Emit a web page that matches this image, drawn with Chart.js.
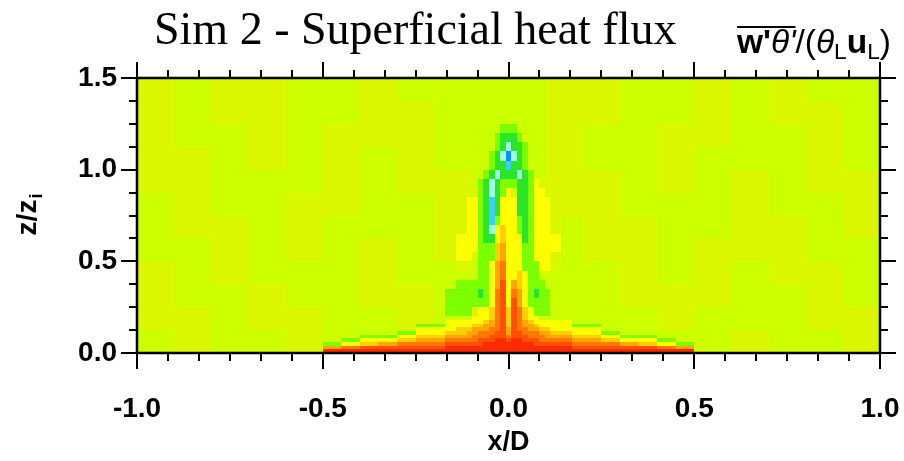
<!DOCTYPE html>
<html><head><meta charset="utf-8">
<script src="https://cdn.jsdelivr.net/npm/chart.js@4.4.1/dist/chart.umd.min.js"></script>
<style>html,body{margin:0;padding:0;background:#fff;overflow:hidden}canvas{display:block}</style>
</head><body>
<canvas id="c" width="904" height="461"></canvas>
<script>
const _ = null;
// axes
const xRange = [-1, 1];
const zRange = [0, 1.5];
const xTickValues = [-1, -0.5, 0, 0.5, 1];
const zTickValues = [0, 0.5, 1, 1.5];
const xMinorPerMajor = 6;
const zMinorPerMajor = 4;
// contour levels (w'theta' in 1e-3 units) and fill colours
const fluxLevels = [-7, -5, -3, -1.5, -0.5, 0.5, 1.5, 3, 5, 7.5, 10.5, 13.5];
const fluxColors = ['#0a8cff','#3ccdff','#9dffe6','#2ae62a','#7cff00','#ccff00','#daf700',
                    '#ffff00','#ffd000','#ffa500','#ff7800','#ff5000','#ff2a00'];

// background field (coarse), rows from top (z=1.5) to bottom
const bgXEdges = [-1,-0.9,-0.8,-0.7,-0.6,-0.5,-0.4,-0.3,-0.2,-0.1,0,0.1,0.2,0.3,0.4,0.5,0.6,0.7,0.8,0.9,1];
const bgZEdges = [1.5,1.375,1.25,1.125,1,0.875,0.75,0.625,0.5,0.375,0.25,0.125,0];
const bgValues = [
 [1,0,1,1,0,0,1,0,0,0,0,1,1,0,0,1,0,1,0,0],
 [1,0,1,1,0,0,1,1,0,0,0,1,1,0,0,1,0,1,1,0],
 [1,0,0,1,0,1,1,1,0,0,0,1,0,0,1,1,0,0,1,0],
 [1,1,0,1,0,1,0,1,0,0,0,1,0,0,1,0,0,0,1,0],
 [1,1,0,0,0,1,0,1,1,0,0,1,1,0,1,0,1,0,1,1],
 [0,1,0,0,1,1,0,0,1,0,0,1,1,0,0,0,1,0,0,1],
 [0,1,1,0,1,0,0,0,1,0,0,0,1,1,0,0,1,1,0,1],
 [0,0,1,0,1,0,1,0,1,0,0,0,1,1,0,1,1,1,0,0],
 [1,0,1,0,0,0,1,0,0,0,0,0,0,1,0,1,0,1,1,0],
 [1,0,0,1,0,0,1,1,0,0,0,0,0,1,1,1,0,0,1,0],
 [1,1,0,1,1,0,0,1,0,0,0,0,0,0,1,0,0,0,1,1],
 [0,1,0,0,1,0,0,0,0,0,0,0,0,0,0,0,1,0,0,1]
];

// surface layer ("skirt"), rows from top (z=0.2) to bottom
const skirtXEdges = [-0.55,-0.5,-0.45,-0.4,-0.35,-0.3,-0.25,-0.2,-0.15,-0.1,-0.05,0,0.05,0.1,0.15,0.2,0.25,0.3,0.35,0.4,0.45,0.5,0.55];
const skirtZEdges = [0.2,0.18,0.16,0.14,0.12,0.1,0.08,0.06,0.04,0.02,0];
const skirtValues = [
 [_,_,_,_,_,_,_, _,_,_,_,_,_,_,_, _,_,_,_,_,_,_],
 [_,_,_,_,_,_,_, _,_,_,_,_,_,_,_, _,_,_,_,_,_,_],
 [_,_,_,_,_,_,-1, _,_,_,_,_,_,_,_, -1,_,_,_,_,_,_],
 [_,_,_,_,_,_,2, _,_,_,_,_,_,_,_, 2,_,_,_,_,_,_],
 [_,_,_,_,_,-1,2, _,_,_,_,_,_,_,_, 2,-1,_,_,_,_,_],
 [_,_,_,-1,-1,2,4, _,_,_,_,_,_,_,_, 4,2,-1,-1,_,_,_],
 [_,_,-1,2,2,4,6, _,_,_,_,_,_,_,_, 6,4,2,2,-1,_,_],
 [_,-1,2,4,6,9,9, _,_,_,_,_,_,_,_, 9,9,6,4,2,-1,_],
 [_,6,9,12,12,12,12, _,_,_,_,_,_,_,_, 12,12,12,12,9,6,_],
 [_,15,15,15,15,15,15, _,_,_,_,_,_,_,_, 15,15,15,15,15,15,_]
];

// central plume (fine), rows from top (z=1.3) to bottom
const plumeXEdges = [-0.2,-0.17,-0.14,-0.1125,-0.0975,-0.0825,-0.0675,-0.0525,-0.0375,-0.0225,-0.0075,
                     0.0075,0.0225,0.0375,0.0525,0.0675,0.0825,0.0975,0.1125,0.14,0.17,0.2];
const plumeZEdges = [1.3,1.25,1.2,1.15,1.1,1.05,1.0,0.95,0.9,0.85,0.8,0.75,0.7,0.65,0.6,0.55,0.5,0.45,
                     0.4,0.35,0.3,0.25,0.2,0.18,0.16,0.14,0.12,0.1,0.08,0.06,0.04,0.02,0];
const plumeValues = [
 [_,_,_,_,_,_,_,_,_,_,_,_,_,_,_,_,_,_,_,_,_],
 [_,_,_,_,_,_,_,_,_,-1,-1,-1,_,_,_,_,_,_,_,_,_],
 [_,_,_,_,_,_,_,_,-1,-2,-2,-2,-1,_,_,_,_,_,_,_,_],
 [_,_,_,_,_,_,_,_,-1,-2,-4,-2,-2,-1,_,_,_,_,_,_,_],
 [_,_,_,_,_,_,_,-1,-2,-4,-8,-4,-2,-1,_,_,_,_,_,_,_],
 [_,_,_,_,_,_,_,-1,-2,-2,-6,-2,-2,-1,_,_,_,_,_,_,_],
 [_,_,_,_,_,_,-1,-2,-4,-2,-2,-2,-4,-2,-1,_,_,_,_,_,_],
 [_,_,_,_,_,-1,-2,-4,-2,-1,-1,-1,-2,-2,-1,2,1,_,_,_,_],
 [_,_,_,1,1,-1,-2,-4,-2,-1,2,0,-2,-2,-1,2,2,1,_,_,_],
 [_,_,_,2,2,-1,-2,-6,-2,2,2,2,-2,-2,-1,2,2,2,1,_,_],
 [_,_,1,2,2,-1,-2,-6,-2,2,2,2,-2,-2,-1,2,2,2,1,_,_],
 [_,_,1,2,2,-1,-2,-6,-1,2,2,2,-1,-2,-1,2,2,2,1,_,_],
 [_,_,1,2,2,-1,-2,-4,2,4,2,2,-1,-2,-1,2,2,2,1,_,_],
 [_,1,2,2,2,-1,-2,-2,2,4,2,2,2,-2,-1,2,2,2,2,_,_],
 [_,1,2,2,2,-1,-1,-1,4,6,2,2,2,-1,-1,2,2,2,2,_,_],
 [_,_,2,2,1,-1,-1,-1,4,6,2,2,2,-1,-1,2,2,2,1,_,_],
 [_,_,1,1,0,-1,-1,2,6,9,2,2,2,-1,-1,-1,2,2,1,_,_],
 [_,_,_,_,0,-1,-1,2,6,9,2,2,4,2,-1,-1,0,_,_,_,_],
 [_,_,-1,-1,-1,-1,-1,2,6,12,2,6,4,2,-1,-1,-1,_,_,_,_],
 [_,-1,-1,-1,-1,-2,-1,2,9,12,2,9,6,2,-1,-2,-1,-1,_,_,_],
 [_,-1,-1,-1,-1,-1,-1,2,9,12,2,12,6,2,-1,-1,-1,-1,_,_,_],
 [_,-1,-1,-1,1,2,2,4,9,12,4,12,9,4,2,-1,-1,-1,_,_,_],
 [_,_,_,1,2,2,2,4,9,12,4,12,9,4,2,2,1,_,_,_,_],
 [_,2,2,2,2,2,4,6,9,12,4,12,9,6,4,2,2,2,2,2,_],
 [-1,2,2,2,4,4,6,6,9,12,4,12,9,6,6,4,2,2,2,2,-1],
 [2,2,4,4,6,6,6,9,9,12,6,12,9,9,6,6,4,4,2,2,2],
 [2,4,4,6,6,9,9,9,12,12,6,12,12,9,9,9,6,6,4,4,2],
 [4,6,6,6,9,9,9,12,12,12,9,12,12,12,9,9,9,6,6,6,4],
 [6,9,9,9,9,12,12,12,15,15,12,15,15,12,12,12,9,9,9,9,6],
 [9,12,12,12,12,12,15,15,15,15,15,15,15,15,15,12,12,12,12,12,9],
 [12,15,15,15,15,15,15,15,15,15,15,15,15,15,15,15,15,15,15,15,12],
 [15,15,15,15,15,15,15,15,15,15,15,15,15,15,15,15,15,15,15,15,15]
];

const titleText = 'Sim 2 - Superficial heat flux';
const xTitle = 'x/D';

function colorFor(v) {
  let i = 0;
  while (i < fluxLevels.length && v >= fluxLevels[i]) i++;
  return fluxColors[i];
}

function drawField(chart, xEdges, zEdges, rows) {
  const {ctx, scales: {x, y}} = chart;
  for (let r = 0; r < rows.length; r++) {
    const y0 = Math.round(y.getPixelForValue(zEdges[r]));
    const y1 = Math.round(y.getPixelForValue(zEdges[r + 1]));
    for (let c = 0; c < rows[r].length; c++) {
      const v = rows[r][c];
      if (v === null) continue;
      const x0 = Math.round(x.getPixelForValue(xEdges[c]));
      const x1 = Math.round(x.getPixelForValue(xEdges[c + 1]));
      ctx.fillStyle = colorFor(v);
      ctx.fillRect(x0, y0, x1 - x0, y1 - y0);
    }
  }
}

const fieldPlugin = {
  id: 'fluxField',
  beforeDatasetsDraw(chart) {
    const {ctx, chartArea: a} = chart;
    ctx.save();
    ctx.beginPath(); ctx.rect(a.left, a.top, a.right - a.left, a.bottom - a.top); ctx.clip();
    drawField(chart, bgXEdges, bgZEdges, bgValues);
    drawField(chart, skirtXEdges, skirtZEdges, skirtValues);
    drawField(chart, plumeXEdges, plumeZEdges, plumeValues);
    ctx.restore();
  }
};

const SANS = '"Liberation Sans", Arial, Helvetica, sans-serif';

const framePlugin = {
  id: 'frameAndLabels',
  afterDraw(chart) {
    const {ctx, chartArea: a, scales: {x, y}} = chart;
    ctx.save();
    ctx.strokeStyle = '#000';
    ctx.lineCap = 'butt';
    const line = (x0, y0, x1, y1) => { ctx.beginPath(); ctx.moveTo(x0, y0); ctx.lineTo(x1, y1); ctx.stroke(); };
    ctx.lineWidth = 2;
    const xStep = (xTickValues[1] - xTickValues[0]) / xMinorPerMajor;
    const nx = Math.round((xRange[1] - xRange[0]) / xStep);
    for (let i = 0; i <= nx; i++) {
      const px = Math.round(x.getPixelForValue(xRange[0] + i * xStep));
      const len = (i % xMinorPerMajor === 0) ? 16 : 8;
      line(px, a.bottom, px, a.bottom + len);
      line(px, a.top, px, a.top - len);
    }
    const zStep = (zTickValues[1] - zTickValues[0]) / zMinorPerMajor;
    const nz = Math.round((zRange[1] - zRange[0]) / zStep);
    for (let i = 0; i <= nz; i++) {
      const py = Math.round(y.getPixelForValue(zRange[0] + i * zStep));
      const len = (i % zMinorPerMajor === 0) ? 16 : 8;
      line(a.left - len, py, a.left, py);
      line(a.right, py, a.right + len, py);
    }
    ctx.lineWidth = 2.5;
    ctx.strokeRect(a.left, a.top, a.right - a.left, a.bottom - a.top);

    // main title
    ctx.fillStyle = '#000';
    ctx.textBaseline = 'alphabetic';
    ctx.textAlign = 'left';
    ctx.font = '46px "Liberation Serif", "DejaVu Serif", serif';
    ctx.fillText(titleText, 154, 44);

    // y axis title z/z_i (rotated)
    ctx.save();
    ctx.translate(27, 215);
    ctx.rotate(-Math.PI / 2);
    ctx.font = 'bold 28px ' + SANS;
    const w1 = ctx.measureText('z/z').width;
    ctx.font = 'bold 18px ' + SANS;
    const w2 = ctx.measureText('i').width;
    const sx = -(w1 + w2) / 2;
    ctx.font = 'bold 28px ' + SANS;
    ctx.fillText('z/z', sx, 9);
    ctx.font = 'bold 18px ' + SANS;
    ctx.fillText('i', sx + w1 + 1, 15);
    ctx.restore();

    // unit label  w'θ'/(θL uL)
    const base = 26;
    const pieces = [
      {t: "w'", f: 'bold ', s: 1, dy: 0, over: true},
      {t: "θ'", f: 'italic ', s: 1, dy: 0, over: true},
      {t: '/(', f: '', s: 1, dy: 0},
      {t: 'θ', f: 'italic ', s: 1, dy: 0},
      {t: 'L', f: '', s: 0.68, dy: 6},
      {t: 'u', f: 'bold ', s: 1, dy: 0},
      {t: 'L', f: '', s: 0.68, dy: 6},
      {t: ')', f: '', s: 1, dy: 0}
    ];
    let total = 0;
    pieces.forEach(p => { ctx.font = p.f + (base * p.s) + 'px ' + SANS; p.w = ctx.measureText(p.t).width; total += p.w; });
    const targetRight = 891, targetLeft = 737;
    const k = (targetRight - targetLeft) / total;
    let cx = targetLeft, overEnd = cx;
    const baseY = 53;
    pieces.forEach(p => {
      ctx.font = p.f + (base * p.s * k).toFixed(1) + 'px ' + SANS;
      ctx.fillText(p.t, cx, baseY + p.dy);
      cx += p.w * k;
      if (p.over) overEnd = cx;
    });
    ctx.lineWidth = 2;
    line(targetLeft, 27, overEnd, 27);
    ctx.restore();
  }
};

new Chart(document.getElementById('c'), {
  type: 'scatter',
  data: { datasets: [{ data: [], pointRadius: 0 }] },
  options: {
    responsive: false,
    animation: false,
    devicePixelRatio: 1,
    layout: { padding: { left: 0, right: 24, top: 78, bottom: 0 } },
    plugins: { legend: { display: false }, tooltip: { enabled: false }, title: { display: false } },
    scales: {
      x: {
        type: 'linear', min: xRange[0], max: xRange[1],
        grid: { display: false }, border: { display: false },
        afterBuildTicks: s => { s.ticks = xTickValues.map(v => ({ value: v })); },
        ticks: { autoSkip: false, maxRotation: 0, color: '#000', padding: 31,
                 font: { family: SANS, size: 28, weight: 'bold' },
                 callback: v => Number(v).toFixed(1) },
        title: { display: true, text: xTitle, color: '#000', padding: { top: 0, bottom: 2 },
                 font: { family: SANS, size: 27, weight: 'bold' } },
        afterFit: s => { s.height = 108; s.paddingLeft = 0; s.paddingRight = 0; }
      },
      y: {
        type: 'linear', min: zRange[0], max: zRange[1],
        grid: { display: false }, border: { display: false },
        afterBuildTicks: s => { s.ticks = zTickValues.map(v => ({ value: v })); },
        ticks: { autoSkip: false, color: '#000', padding: 12,
                 font: { family: SANS, size: 28, weight: 'bold' },
                 callback: v => Number(v).toFixed(1) },
        afterFit: s => { s.width = 137; s.paddingTop = 0; s.paddingBottom = 0; }
      }
    }
  },
  plugins: [fieldPlugin, framePlugin]
});
</script>
</body></html>
